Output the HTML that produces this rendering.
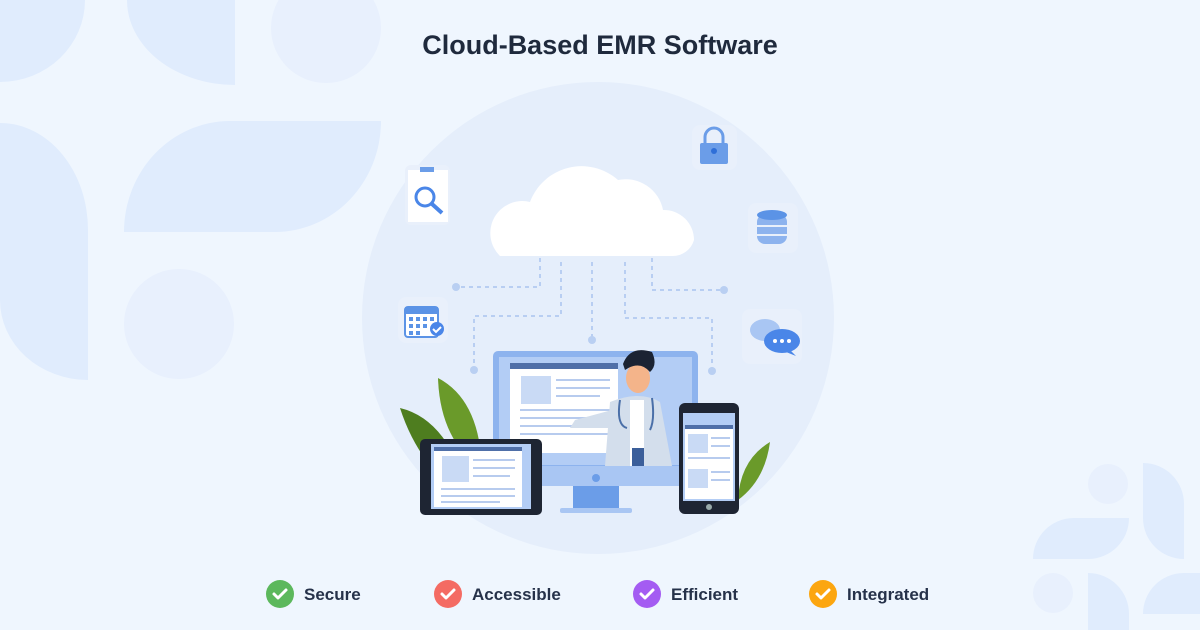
<!DOCTYPE html>
<html><head><meta charset="utf-8"><style>
html,body{margin:0;padding:0;width:1200px;height:630px;overflow:hidden;background:#eff6fe;font-family:"Liberation Sans",sans-serif}
</style></head><body>
<svg width="1200" height="630" viewBox="0 0 1200 630" xmlns="http://www.w3.org/2000/svg">
<rect width="1200" height="630" fill="#eff6fe"/>
<g fill="#e0ecfd">
<path d="M0 0 H85 A85 82 0 0 1 0 82 Z"/>
<path d="M127 0 H235 V85 A108 85 0 0 1 127 0 Z"/>
<path d="M0 123 A88 107 0 0 1 88 230 V380 A88 80 0 0 1 0 300 Z"/>
<path d="M124 232 A106 111 0 0 1 230 121 H381 A106 111 0 0 1 275 232 Z"/>
<path d="M1143 463 A41 41 0 0 1 1184 504 V559 A41 41 0 0 1 1143 518 Z"/>
<path d="M1033 559 A41 41 0 0 1 1074 518 H1129 A41 41 0 0 1 1088 559 Z"/>
<path d="M1088 573 A41 41 0 0 1 1129 614 V630 H1088 Z"/>
<path d="M1143 614 A41 41 0 0 1 1184 573 H1200 V614 Z"/>
</g>
<g fill="#e8f0fd">
<circle cx="326" cy="28" r="55"/>
<circle cx="179" cy="324" r="55"/>
<circle cx="1108" cy="484" r="20"/>
<circle cx="1053" cy="593" r="20"/>
</g>
<text x="600" y="54" text-anchor="middle" font-family="Liberation Sans" font-weight="bold" font-size="27" fill="#1f2a3d">Cloud-Based EMR Software</text>
<circle cx="598" cy="318" r="236" fill="#e5eefb"/>
<!-- connectors -->
<g stroke="#a9c3ef" stroke-width="1.5" stroke-dasharray="4 4" fill="none">
<path d="M540 258 V287 H456"/><path d="M561 262 V316 H474 V370"/><path d="M592 262 V340"/>
<path d="M625 262 V318 H712 V370"/><path d="M652 258 V290 H724"/>
</g>
<g fill="#b9cff2"><circle cx="456" cy="287" r="4"/><circle cx="474" cy="370" r="4"/><circle cx="592" cy="340" r="4"/><circle cx="712" cy="371" r="4"/><circle cx="724" cy="290" r="4"/></g>
<!-- cloud -->
<path d="M500 256 A32 32 0 0 1 530 202 A55 55 0 0 1 618 180 A38 38 0 0 1 663 210 A30 30 0 0 1 694 240 A22 22 0 0 1 672 256 Z" fill="#fff"/>
<!-- icons -->
<rect x="405" y="165" width="45" height="60" rx="6" fill="#e9f0fb"/>
<rect x="408" y="170" width="40" height="52" fill="#fff"/>
<rect x="420" y="167" width="14" height="5" fill="#6b9de8"/>
<circle cx="425" cy="197" r="9" fill="none" stroke="#4a86e8" stroke-width="3"/><path d="M432 204 L442 213" stroke="#4a86e8" stroke-width="4"/>
<rect x="692" y="125" width="45" height="45" rx="8" fill="#e9f0fb"/>
<path d="M705 143 V137 A9 9 0 0 1 723 137 V143" fill="none" stroke="#6b9de8" stroke-width="3"/>
<rect x="700" y="143" width="28" height="21" rx="2" fill="#6b9de8"/><circle cx="714" cy="151" r="3" fill="#2f6fd8"/>
<rect x="748" y="203" width="50" height="50" rx="8" fill="#e9f0fb"/>
<rect x="757" y="214" width="30" height="30" rx="8" fill="#8db3ee"/><ellipse cx="772" cy="215" rx="15" ry="5" fill="#5b93e6"/>
<path d="M757 226 H787 M757 235 H787" stroke="#e9f0fb" stroke-width="2"/>
<rect x="398" y="297" width="50" height="46" rx="8" fill="#e9f0fb"/>
<rect x="405" y="307" width="33" height="30" rx="3" fill="#fff" stroke="#5b93e6" stroke-width="2"/><rect x="405" y="307" width="33" height="7" fill="#5b93e6"/>
<g fill="#5b93e6"><rect x="409" y="317" width="4" height="4"/><rect x="416" y="317" width="4" height="4"/><rect x="423" y="317" width="4" height="4"/><rect x="430" y="317" width="4" height="4"/><rect x="409" y="324" width="4" height="4"/><rect x="416" y="324" width="4" height="4"/><rect x="423" y="324" width="4" height="4"/><rect x="409" y="331" width="4" height="4"/><rect x="416" y="331" width="4" height="4"/></g>
<circle cx="437" cy="329" r="7" fill="#4a86e8"/><path d="M433 329 l3 3 l5 -5" stroke="#fff" stroke-width="2" fill="none"/>
<rect x="742" y="309" width="60" height="55" rx="8" fill="#e9f0fb"/>
<ellipse cx="765" cy="330" rx="15" ry="11" fill="#a9c6f3"/>
<ellipse cx="782" cy="341" rx="18" ry="12" fill="#4a86e8"/><path d="M790 350 L796 356 L786 352Z" fill="#4a86e8"/>
<g fill="#fff"><circle cx="775" cy="341" r="2"/><circle cx="782" cy="341" r="2"/><circle cx="789" cy="341" r="2"/></g>
<!-- leaves -->
<path d="M400 408 Q450 420 470 500 Q420 470 400 408Z" fill="#4e7d1f"/>
<path d="M438 378 Q480 400 482 470 Q440 440 438 378Z" fill="#6a9a2a"/>
<path d="M770 442 Q740 460 738 500 Q765 480 770 442Z" fill="#6a9a2a"/>
<!-- monitor -->
<rect x="493" y="351" width="205" height="120" rx="5" fill="#8db3ee"/>
<rect x="499" y="357" width="193" height="108" fill="#b3cdf5"/>
<rect x="510" y="363" width="108" height="90" fill="#fff"/><rect x="510" y="363" width="108" height="6" fill="#4f6fa8"/>
<rect x="521" y="376" width="30" height="28" fill="#c9daf5"/>
<g stroke="#b7cbee" stroke-width="2"><path d="M556 380 H610 M556 388 H610 M556 396 H600 M520 410 H610 M520 418 H610 M520 426 H600 M520 434 H610"/></g>
<rect x="493" y="466" width="205" height="20" fill="#a9c6f3"/><circle cx="596" cy="478" r="4" fill="#6b9de8"/>
<rect x="573" y="486" width="46" height="22" fill="#6b9de8"/><rect x="560" y="508" width="72" height="5" rx="2" fill="#a9c6f3"/>
<!-- doctor -->
<path d="M610 402 Q640 390 660 402 L672 466 H605 Z" fill="#d3deec"/>
<rect x="630" y="400" width="14" height="66" fill="#fff"/><rect x="632" y="448" width="12" height="18" fill="#3c5f9a"/>
<path d="M612 410 L575 420 L570 428 L610 428Z" fill="#d3deec"/>
<ellipse cx="638" cy="378" rx="12" ry="15" fill="#f4b48a"/>
<path d="M623 364 Q630 345 652 352 Q658 365 650 372 Q640 360 625 370Z" fill="#1b2333"/>
<path d="M620 400 Q616 425 627 428 M652 398 Q655 420 650 430" stroke="#4a6fa8" stroke-width="2" fill="none"/>
<!-- tablet -->
<rect x="420" y="439" width="122" height="76" rx="5" fill="#1e2533"/>
<rect x="431" y="444" width="100" height="65" fill="#b3cdf5"/><rect x="434" y="447" width="88" height="60" fill="#fff"/>
<rect x="434" y="447" width="88" height="4" fill="#4f6fa8"/><rect x="442" y="456" width="27" height="26" fill="#c9daf5"/>
<g stroke="#b7cbee" stroke-width="2"><path d="M473 460 H515 M473 468 H515 M473 476 H510 M441 489 H515 M441 496 H515 M441 502 H500"/></g>
<!-- phone -->
<rect x="679" y="403" width="60" height="111" rx="6" fill="#1e2533"/>
<rect x="683" y="413" width="52" height="88" fill="#b3cdf5"/><rect x="685" y="425" width="48" height="74" fill="#fff"/>
<rect x="685" y="425" width="48" height="4" fill="#4f6fa8"/>
<rect x="688" y="434" width="20" height="19" fill="#c9daf5"/><rect x="688" y="469" width="20" height="19" fill="#c9daf5"/>
<g stroke="#b7cbee" stroke-width="2"><path d="M711 438 H730 M711 446 H730 M688 458 H730 M711 472 H730 M711 480 H730"/></g>
<circle cx="709" cy="507" r="3" fill="#9aa"/>
<!-- features -->
<g font-family="Liberation Sans" font-size="17" font-weight="bold" fill="#26324a">
<circle cx="280" cy="594" r="14" fill="#5cb85c"/><text x="304" y="600">Secure</text>
<circle cx="448" cy="594" r="14" fill="#f46b63"/><text x="472" y="600">Accessible</text>
<circle cx="647" cy="594" r="14" fill="#a45cf2"/><text x="671" y="600">Efficient</text>
<circle cx="823" cy="594" r="14" fill="#fca610"/><text x="847" y="600">Integrated</text>
</g>
<g stroke="#fff" stroke-width="3" fill="none" stroke-linecap="round" stroke-linejoin="round">
<path d="M274 594 l4 4 l8 -8"/><path d="M442 594 l4 4 l8 -8"/><path d="M641 594 l4 4 l8 -8"/><path d="M817 594 l4 4 l8 -8"/>
</g>
</svg>
</body></html>
